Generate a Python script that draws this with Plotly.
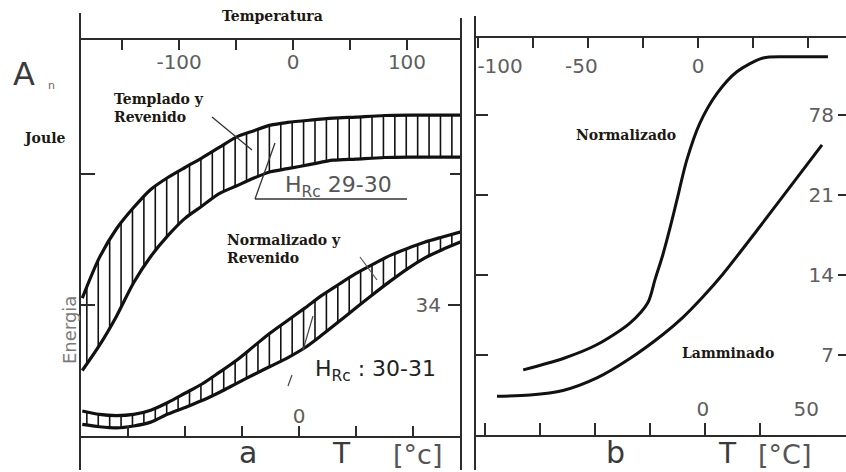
import numpy as np
import plotly.graph_objects as go

W, H = 846, 472

# ---------------- data ----------------
# (a) Templado y Revenido, HRc 29-30: band limits, energy [J] vs T [°C]
t_tr = [-190, -175, -160, -145, -130, -115, -100, -85, -70, -55, -40, -25, -10, 10, 30, 50, 75, 100, 142]
e_tr_upper = [35.8, 46.3, 53.8, 59.3, 64.0, 67.1, 69.7, 72.2, 74.9, 77.6, 79.2, 80.7, 81.4, 82.0, 82.5, 82.8, 83.2, 83.3, 83.3]
e_tr_lower = [17.0, 23.5, 31.1, 39.8, 46.6, 52.0, 56.5, 59.7, 62.9, 64.9, 66.9, 68.6, 69.4, 70.5, 71.6, 71.9, 72.3, 72.4, 72.4]

# (a) Normalizado y Revenido, HRc 30-31
t_nr = [-190, -175, -160, -145, -130, -115, -100, -85, -70, -55, -40, -25, -10, 5, 20, 35, 50, 65, 80, 95, 110, 125, 142]
e_nr_upper = [6.5, 5.6, 5.3, 5.6, 6.7, 8.7, 11.1, 13.5, 16.5, 19.6, 23.2, 26.8, 30.0, 33.2, 36.5, 39.4, 42.2, 44.6, 46.9, 48.7, 50.3, 51.6, 53.0]
e_nr_lower = [3.0, 2.4, 2.1, 2.6, 3.6, 5.7, 7.4, 9.2, 11.3, 13.6, 15.9, 18.1, 20.3, 22.9, 26.2, 29.7, 33.3, 36.8, 40.2, 43.4, 46.2, 48.3, 50.4]

# (b) Normalizado and Lamminado curves
t_norm = [-82.6, -64.4, -49.2, -34.1, -25.9, -22.7, -19.1, -15.9, -12.7, -8.2, -2.3, 5.5, 14.5, 26.4, 38.6, 55.9]
e_norm = [5.7, 6.7, 7.9, 9.8, 11.6, 13.6, 15.8, 18.1, 20.6, 24.1, 27.3, 29.9, 31.8, 33.0, 33.1, 33.1]
t_lam = [-94.5, -79.5, -64.5, -49.1, -34.1, -19.1, -10.0, -0.9, 8.2, 23.6, 38.6, 53.2]
e_lam = [3.4, 3.5, 3.9, 5.0, 6.7, 8.8, 10.3, 12.1, 14.1, 17.9, 21.7, 25.4]

# tick values / labels (labelled ticks are major, the rest minor)
a_t_bot_vals, a_t_bot_text = [0], ["0"]
a_t_bot_minor = [-150, -100, -50, 50, 100]
a_t_top_vals, a_t_top_text = [-100, 0, 100], ["-100", "0", "100"]
a_t_top_minor = [-150, -50, 50]
a_e_ticks = [34, 68]
a_e_vals, a_e_text = [34], ["34"]
a_e_minor = [68]
b_t_ticks = [-100, -75, -50, -25, 0, 25, 50]
b_top_label_vals = [-90, -53, 0]
b_top_text = ["-100", "-50", "0"]
b_bot_label_vals = [-1, 46]
b_bot_text = ["0", "50"]
b_e_ticks = [7, 14, 21, 28]
b_e_text = ["7", "14", "21", "78"]


def fx(p):
    return p / W


def fy(p):
    return 1 - p / H


INK = "#111111"
AXIS = "#2b2b2b"
TICKFONT = dict(family="DejaVu Sans", size=20, color="#5e5e5e")
SERIF = dict(family="DejaVu Serif", size=14, color="#1d1812", weight="bold")


def hatch(t, upper, lower, t0, t1, step):
    xs, ys = [], []
    for tv in np.arange(t0, t1 + 1e-9, step):
        xs += [tv, tv, None]
        ys += [float(np.interp(tv, t, lower)), float(np.interp(tv, t, upper)), None]
    return xs, ys


fig = go.Figure()

# hatched bands of panel (a)
for t, up, lo in [(t_tr, e_tr_upper, e_tr_lower), (t_nr, e_nr_upper, e_nr_lower)]:
    hx, hy = hatch(t, up, lo, -186, 140, 10)
    fig.add_trace(go.Scatter(x=hx, y=hy, mode="lines", xaxis="x", yaxis="y",
                             line=dict(color=INK, width=1.6), hoverinfo="skip", showlegend=False))
    for e in (up, lo):
        fig.add_trace(go.Scatter(x=t, y=e, mode="lines", xaxis="x", yaxis="y",
                                 line=dict(color=INK, width=3.2, shape="spline", smoothing=0.8),
                                 hoverinfo="skip", showlegend=False))

# curves of panel (b)
for t, e in [(t_norm, e_norm), (t_lam, e_lam)]:
    fig.add_trace(go.Scatter(x=t, y=e, mode="lines", xaxis="x3", yaxis="y3",
                             line=dict(color=INK, width=3, shape="spline", smoothing=0.8),
                             hoverinfo="skip", showlegend=False))

# empty traces so every overlay axis is drawn
for xa, ya in [("x2", "y"), ("x", "y2"), ("x4", "y3"), ("x5", "y3"), ("x6", "y3"), ("x3", "y4")]:
    fig.add_trace(go.Scatter(x=[None], y=[None], xaxis=xa, yaxis=ya,
                             hoverinfo="skip", showlegend=False))

common = dict(showgrid=False, zeroline=False, tickcolor=AXIS, tickwidth=1.6,
              linecolor=AXIS, linewidth=2, tickfont=TICKFONT, fixedrange=True)


def minor(vals, length):
    return dict(tickvals=vals, ticks="inside", ticklen=length, tickcolor=AXIS,
                tickwidth=1.6, showgrid=False)


A_DOM_X = [fx(80), fx(461)]
A_DOM_Y = [fy(436), fy(40)]
B_DOM_X = [fx(475), 1.0]
B_DOM_Y = [fy(435), fy(38)]

fig.update_layout(
    width=W, height=H,
    margin=dict(l=0, r=0, t=0, b=0),
    paper_bgcolor="white", plot_bgcolor="rgba(0,0,0,0)",
    xaxis=dict(domain=A_DOM_X, range=[-192, 142], anchor="y", side="bottom",
               showline=True, ticks="inside", ticklen=10,
               tickvals=a_t_bot_vals, ticktext=a_t_bot_text, minor=minor(a_t_bot_minor, 10),
               ticklabelposition="inside", **common),
    xaxis2=dict(overlaying="x", range=[-187, 147.4], anchor="y", side="top",
                showline=True, ticks="inside", ticklen=10, ticklabelstandoff=6,
                tickvals=a_t_top_vals, ticktext=a_t_top_text, minor=minor(a_t_top_minor, 10),
                ticklabelposition="inside", **common),
    yaxis=dict(domain=A_DOM_Y, range=[0, 102.8], anchor="x", side="left",
               showline=False, ticks="inside", ticklen=15,
               tickvals=a_e_ticks, showticklabels=False, **common),
    yaxis2=dict(overlaying="y", range=[0, 102.8], anchor="x", side="right",
                showline=False, ticks="inside", ticklen=13, ticklabelstandoff=8,
                tickvals=a_e_vals, ticktext=a_e_text, minor=minor(a_e_minor, 11),
                ticklabelposition="inside", **common),
    xaxis3=dict(domain=B_DOM_X, range=[-104.5, 64.1], anchor="y3", side="bottom",
                showline=True, ticks="inside", ticklen=12,
                tickvals=b_t_ticks, showticklabels=False, **common),
    xaxis6=dict(overlaying="x3", range=[-104.5, 64.1], anchor="y3", side="bottom",
                showline=False, ticks="", ticklabelstandoff=12,
                tickvals=b_bot_label_vals, ticktext=b_bot_text, ticklabelposition="inside", **common),
    xaxis4=dict(overlaying="x3", range=[-101.4, 67.3], anchor="y3", side="top",
                showline=True, ticks="inside", ticklen=10,
                tickvals=b_t_ticks, showticklabels=False, **common),
    xaxis5=dict(overlaying="x3", range=[-101.4, 67.3], anchor="y3", side="top",
                showline=False, ticks="", tickvals=b_top_label_vals, ticktext=b_top_text,
                ticklabelstandoff=18, ticklabelposition="inside", **common),
    yaxis3=dict(domain=B_DOM_Y, range=[0, 34.75], anchor="x3", side="left",
                showline=False, ticks="inside", ticklen=13,
                tickvals=b_e_ticks, showticklabels=False, **common),
    yaxis4=dict(overlaying="y3", range=[0, 34.75], anchor="x3", side="right",
                showline=False, ticks="inside", ticklen=8, ticklabelstandoff=5,
                tickvals=b_e_ticks, ticktext=b_e_text, ticklabelposition="inside", **common),
)

# frame verticals, leader lines and underline
segments = [
    ((80, 13), (80, 470), 2.0, AXIS),
    ((461, 18), (461, 470), 2.0, AXIS),
    ((475, 16), (475, 470), 2.0, AXIS),
    ((212, 117), (252, 150), 1.3, "#333"),
    ((255, 199), (275, 143), 1.3, "#333"),
    ((255, 199), (407, 199), 1.5, "#333"),
    ((360, 257), (377, 280), 1.2, "#555"),
    ((303, 350), (313, 316), 1.2, "#444"),
    ((288, 386), (292, 375), 1.2, "#444"),
]
for (x0, y0), (x1, y1), w, c in segments:
    fig.add_shape(type="line", xref="paper", yref="paper",
                  x0=fx(x0), y0=fy(y0), x1=fx(x1), y1=fy(y1),
                  line=dict(color=c, width=w), layer="above")


def text(s, x, y, font, xanchor="center", yanchor="middle", align="center", angle=0):
    fig.add_annotation(text=s, xref="paper", yref="paper", x=fx(x), y=fy(y),
                       xanchor=xanchor, yanchor=yanchor, align=align, showarrow=False,
                       textangle=angle, font=font, borderpad=0)


text("Temperatura", 272, 16, SERIF)
text("Templado y<br>Revenido", 113, 108, SERIF, xanchor="left", align="left")
text("Joule", 44, 138, SERIF)
text("Normalizado y<br>Revenido", 226, 249, SERIF, xanchor="left", align="left")
text("Normalizado", 626, 135, SERIF)
text("Lamminado", 728, 353, SERIF)

GREY = dict(family="DejaVu Sans", color="#3a3a3a")
text("A", 12, 74, dict(GREY, size=32), xanchor="left")
text("n", 51, 86, dict(GREY, size=11, color="#666"))
text("Energia", 69, 330, dict(family="DejaVu Sans", size=18, color="#7a7a7a"), angle=-90)
text("H<sub>Rc</sub> 29-30", 338, 186, dict(family="DejaVu Sans", size=22, color="#555"))
text("H<sub>Rc</sub> : 30-31", 375, 370, dict(family="DejaVu Sans", size=22, color="#222"))

# axis-name row along the bottom edge
text("a", 248, 471, dict(GREY, size=30), yanchor="bottom")
text("T", 341, 471, dict(GREY, size=28), yanchor="bottom")
text("[°c]", 417, 471, dict(GREY, size=27, color="#555"), yanchor="bottom")
text("b", 615, 471, dict(GREY, size=30), yanchor="bottom")
text("T", 727, 471, dict(GREY, size=28), yanchor="bottom")
text("[°C]", 784, 471, dict(GREY, size=27, color="#555"), yanchor="bottom")

fig.write_html("out.html")
